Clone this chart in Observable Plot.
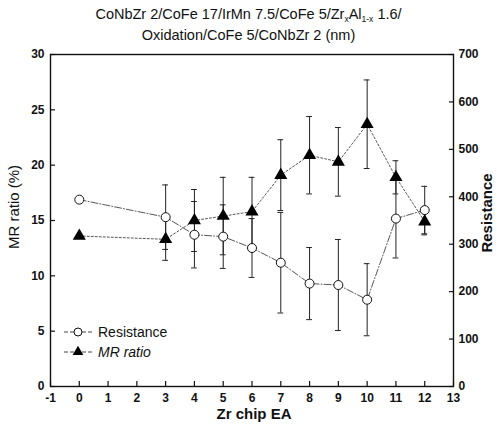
<!DOCTYPE html>
<html>
<head>
<meta charset="utf-8">
<script src="https://cdn.jsdelivr.net/npm/d3@7"></script>
<script src="https://cdn.jsdelivr.net/npm/@observablehq/plot@0.6"></script>
<style>
  html, body { margin: 0; padding: 0; background: #fff; }
  #wrap { position: relative; width: 497px; height: 428px; font-family: "Liberation Sans", Arial, sans-serif; }
  #title { position: absolute; left: 0; top: 0; width: 497px; text-align: center; font-family: "Liberation Sans", Arial, sans-serif; font-size: 14.5px; line-height: 21px; padding-top: 4px; color: #111; }
  #title sub { font-size: 8.5px; line-height: 0; vertical-align: -3px; }
  #chart { position: absolute; left: 0; top: 0; }
</style>
</head>
<body>
<div id="wrap">
  <div id="chart"></div>
  <div id="title">CoNbZr 2/CoFe 17/IrMn 7.5/CoFe 5/Zr<sub>x</sub>Al<sub>1-x</sub> 1.6/<br>Oxidation/CoFe 5/CoNbZr 2 (nm)</div>
</div>
<script>
// --- data ---
const chipEA = [0, 3, 4, 5, 6, 7, 8, 9, 10, 11, 12];
const mrRatio = [13.6, 13.3, 15.0, 15.4, 15.8, 19.1, 20.9, 20.3, 23.7, 18.9, 14.9];
const mrErr = [null, 1.9, 2.8, 3.5, 3.1, 3.2, 3.5, 3.1, 4.0, 1.5, 1.2];
const resistance = [394, 357, 320, 316, 292, 261, 217, 214, 183, 354, 372];
const resErr = [null, 68, 70, 67, 62, 106, 76, 96, 76, 83, 50];
const xTicks = d3.range(-1, 14);
const yTicks = [0, 5, 10, 15, 20, 25, 30];
const rTicks = [0, 100, 200, 300, 400, 500, 600, 700];

const R2Y = 30 / 700; // right axis (resistance) to left axis (MR %) conversion

const mr = chipEA.map((x, i) => ({x, y: mrRatio[i], e: mrErr[i]}));
const res = chipEA.map((x, i) => ({x, r: resistance[i], e: resErr[i]}));
const mrE = mr.filter(d => d.e != null);
const resE = res.filter(d => d.e != null);
const cap = 0.1;

const chart = Plot.plot({
  width: 497,
  height: 428,
  marginTop: 54,
  marginBottom: 42,
  marginLeft: 50,
  marginRight: 44,
  style: {fontFamily: "Liberation Sans, Arial, sans-serif", fontSize: "11px", color: "#111", background: "#fff"},
  x: {domain: [-1, 13], label: null},
  y: {domain: [0, 30], label: null},
  marks: [
    Plot.frame({stroke: "#111", strokeWidth: 1.4}),
    Plot.axisX({ticks: xTicks, tickSize: -5, tickPadding: 12, fontWeight: "bold", fontSize: 12, strokeWidth: 1.2, tickFormat: d => String(d)}),
    Plot.axisY({ticks: yTicks, anchor: "left", tickSize: -5, tickPadding: 11, fontWeight: "bold", fontSize: 12, strokeWidth: 1.2}),
    Plot.axisY(rTicks.map(r => r * R2Y), {anchor: "right", tickSize: -5, tickPadding: 10, fontWeight: "bold", fontSize: 12, strokeWidth: 1.2, tickFormat: d => String(Math.round(d / R2Y))}),
    // error bars - MR ratio
    Plot.ruleX(mrE, {x: "x", y1: d => d.y - d.e, y2: d => d.y + d.e, stroke: "#222", strokeWidth: 1}),
    Plot.ruleY(mrE, {x1: d => d.x - cap, x2: d => d.x + cap, y: d => d.y + d.e, stroke: "#222", strokeWidth: 1}),
    Plot.ruleY(mrE, {x1: d => d.x - cap, x2: d => d.x + cap, y: d => d.y - d.e, stroke: "#222", strokeWidth: 1}),
    // error bars - resistance
    Plot.ruleX(resE, {x: "x", y1: d => (d.r - d.e) * R2Y, y2: d => (d.r + d.e) * R2Y, stroke: "#222", strokeWidth: 1}),
    Plot.ruleY(resE, {x1: d => d.x - cap, x2: d => d.x + cap, y: d => (d.r + d.e) * R2Y, stroke: "#222", strokeWidth: 1}),
    Plot.ruleY(resE, {x1: d => d.x - cap, x2: d => d.x + cap, y: d => (d.r - d.e) * R2Y, stroke: "#222", strokeWidth: 1}),
    // lines
    Plot.line(mr, {x: "x", y: "y", stroke: "#444", strokeWidth: 0.9, strokeDasharray: "2,2"}),
    Plot.line(res, {x: "x", y: d => d.r * R2Y, stroke: "#444", strokeWidth: 0.9, strokeDasharray: "7,2,1,2"}),
    // markers
    Plot.dot(mr, {x: "x", y: "y", symbol: "triangle", r: 3.9, fill: "#000", stroke: "#000"}),
    Plot.dot(res, {x: "x", y: d => d.r * R2Y, r: 4.5, fill: "#fff", stroke: "#111", strokeWidth: 1})
  ]
});
document.getElementById("chart").appendChild(chart);

// axis titles and legend
const svg = d3.select(chart);
svg.append("text").attr("transform", "translate(19,207) rotate(-90)").attr("text-anchor", "middle")
  .style("font-size", "15px").style("fill", "#111").text("MR ratio (%)");
svg.append("text").attr("transform", "translate(492,213) rotate(-90)").attr("text-anchor", "middle")
  .style("font-size", "15px").style("font-weight", "bold").style("fill", "#111").text("Resistance");
svg.append("text").attr("x", 254).attr("y", 419).attr("text-anchor", "middle")
  .style("font-size", "15px").style("font-weight", "bold").style("fill", "#111").text("Zr chip EA");

const lg = svg.append("g").attr("transform", "translate(64,0)");
lg.append("line").attr("x1", 0).attr("x2", 30).attr("y1", 332).attr("y2", 332).attr("stroke", "#444").attr("stroke-dasharray", "4,2");
lg.append("circle").attr("cx", 14).attr("cy", 332).attr("r", 4).attr("fill", "#fff").attr("stroke", "#111");
lg.append("text").attr("x", 34).attr("y", 337).attr("text-anchor", "start").style("font-size", "14px").style("fill", "#111").text("Resistance");
lg.append("line").attr("x1", 0).attr("x2", 30).attr("y1", 352).attr("y2", 352).attr("stroke", "#444").attr("stroke-dasharray", "4,2");
lg.append("path").attr("d", d3.symbol(d3.symbolTriangle, 50)()).attr("transform", "translate(14,352)").attr("fill", "#000");
lg.append("text").attr("x", 34).attr("y", 357).attr("text-anchor", "start").style("font-size", "14px").style("font-style", "italic").style("fill", "#111").text("MR ratio");
</script>
</body>
</html>
